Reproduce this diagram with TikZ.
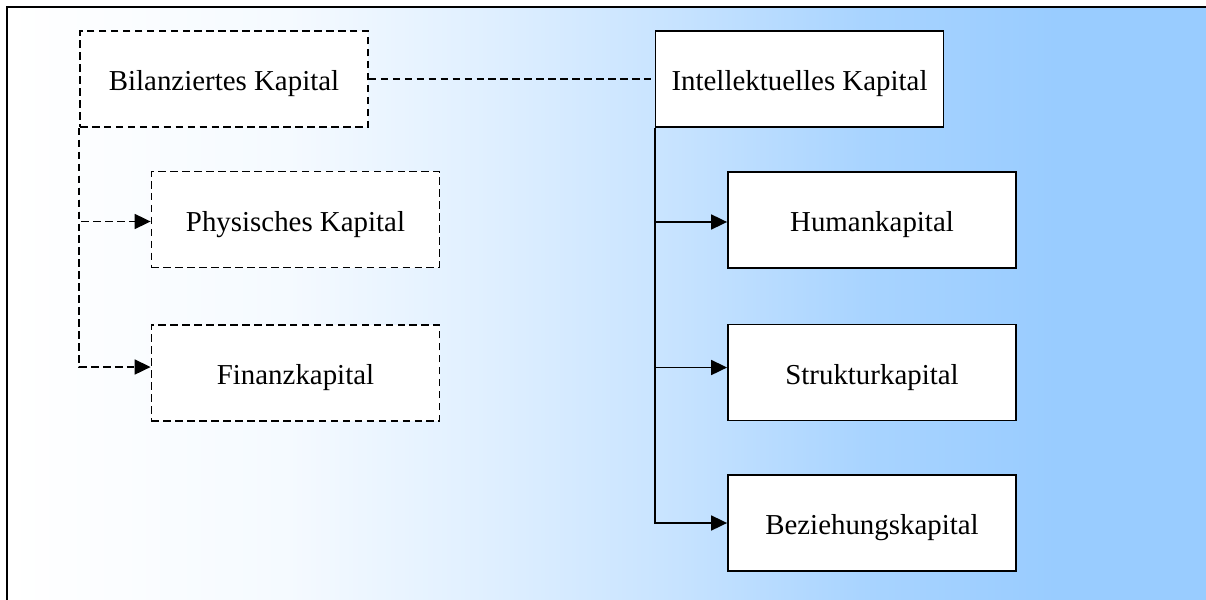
\documentclass[tikz,border=0pt]{standalone}
\usepackage{fontspec}
\setmainfont{Liberation Serif}
\usetikzlibrary{arrows.meta}
\definecolor{bgblue}{RGB}{153,204,255}
% horizontal background shading: white on the left, light blue on the right
\pgfdeclarehorizontalshading{bgshade}{100bp}{color(0bp)=(white); color(25bp)=(white);
  color(37.25bp)=(bgblue!10); color(45.5bp)=(bgblue!30); color(54bp)=(bgblue!55);
  color(62.25bp)=(bgblue!85); color(70.5bp)=(bgblue); color(100bp)=(bgblue)}
\tikzset{
  kbox/.style={draw, line width=0.9pt, fill=white, rectangle, inner sep=0pt,
    minimum width=144bp, minimum height=48bp, align=center,
    text height=13pt, text depth=1pt,
    font=\fontsize{14.5}{17}\selectfont},
  dbox/.style={kbox, dash pattern=on 3.8pt off 2.2pt},
  link/.style={line width=0.9pt},
  dlink/.style={link, dash pattern=on 3.8pt off 2.2pt},
  tip/.style={-{Triangle[length=8pt,width=7.5pt]}}
}
\begin{document}
\begin{tikzpicture}[x=0.5bp,y=-0.5bp]
  \useasboundingbox (0,0) rectangle (1206,600);
  % frame with gradient background; the flat right part is filled plainly
  \shade[shading=bgshade] (7,7) rectangle (1160,630);
  \fill[bgblue] (1140,7) rectangle (1240,640);
  \draw[line width=1pt] (7,640) -- (7,7) -- (1240,7);

  % left branch: balance-sheet capital
  \node[dbox] (bil) at (224,79) {Bilanziertes Kapital};
  \node[dbox] (phy) at (295.5,219.5) {Physisches Kapital};
  \node[dbox] (fin) at (295.5,373) {Finanzkapital};

  % right branch: intellectual capital
  \node[kbox] (int) at (799.5,79) {Intellektuelles Kapital};
  \node[kbox] (hum) at (872,220) {Humankapital};
  \node[kbox] (str) at (872,372.5) {Strukturkapital};
  \node[kbox] (bez) at (872,523) {Beziehungskapital};

  % connectors
  \draw[dlink] (bil.east) -- (int.west);
  \draw[dlink,tip] (bil.south west) |- ([yshift=-1pt]phy.west);
  \draw[dlink,tip] (bil.south west) |- ([yshift=3pt]fin.west);
  \draw[link,tip] (int.south west) |- ([yshift=-1pt]hum.west);
  \draw[link,tip] (int.south west) |- ([yshift=2.5pt]str.west);
  \draw[link,tip] (int.south west) |- (bez.west);
\end{tikzpicture}
\end{document}
